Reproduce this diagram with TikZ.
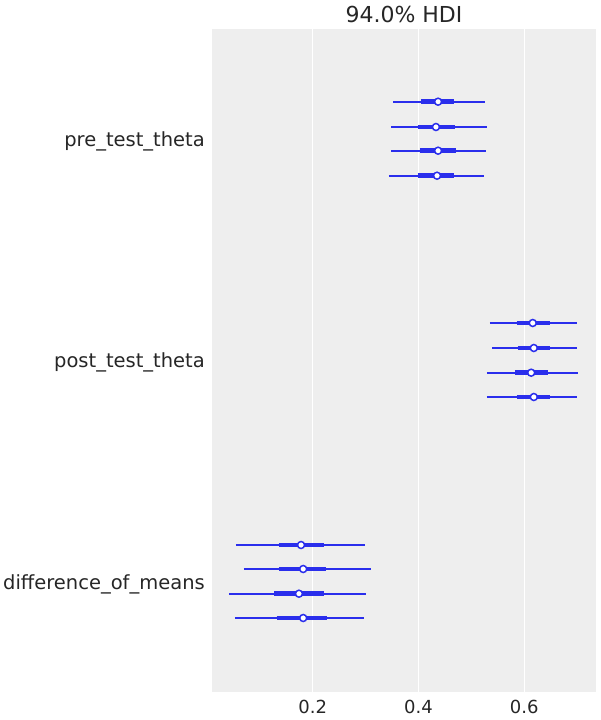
\documentclass[tikz,border=0pt]{standalone}
\usepackage{fontspec}
\setmainfont{DejaVu Sans}
\usetikzlibrary{positioning}
\definecolor{hdiblue}{HTML}{2A2EEC}
\definecolor{panelgrey}{HTML}{EEEEEE}
\definecolor{labelgrey}{HTML}{262626}

\begin{document}
\begin{tikzpicture}[x=1pt, y=-1pt,
				hdiline/.style={draw=hdiblue, line width=2pt},
				iqrline/.style={draw=hdiblue, line width=4.7pt},
				estimate/.style={circle, draw=hdiblue, fill=white, line width=1.5pt, inner sep=0pt, minimum size=7pt},
				varlabel/.style={anchor=base east, inner xsep=0pt, text=labelgrey, font=\fontsize{19.5}{22}\selectfont},
				ticklabel/.style={anchor=base, text=labelgrey, font=\fontsize{18}{21}\selectfont}]
				\useasboundingbox (0,0) rectangle (600,720);
				\fill[panelgrey] (212,29) rectangle (596,692);
				
				\node[anchor=base, text=labelgrey, font=\fontsize{22}{26}\selectfont](title) at (404,23) {94.0\% HDI};
				
				\node[varlabel](pretheta) at (205,146.5) {pre\_test\_theta};
				\node[varlabel](posttheta) at (205,367.7) {post\_test\_theta};
				\node[varlabel](diffmeans) at (205,589) {difference\_of\_means};
				
				\begin{scope}[xshift=206.9pt, x=529pt]
				\foreach \v/\n in {0.2/two, 0.4/four, 0.6/six} {
					\draw[white, line width=1.2pt] (\v,29) -- (\v,692);
					\node[ticklabel](tick\n) at (\v,713) {\v};
				}
				% one row per chain: y, hdi low, quartile low, mean, quartile high, hdi high
				\foreach \y/\lo/\qa/\m/\qb/\hi in {
					101.7/0.352/0.405/0.437/0.467/0.526, 127.0/0.348/0.399/0.433/0.469/0.530,
					150.7/0.348/0.403/0.437/0.471/0.528, 175.7/0.344/0.399/0.435/0.467/0.524,
					323.0/0.535/0.586/0.616/0.648/0.700, 348.0/0.539/0.588/0.618/0.648/0.700,
					372.7/0.529/0.582/0.613/0.645/0.702, 397.0/0.529/0.586/0.618/0.648/0.700,
					545.0/0.055/0.136/0.178/0.221/0.299, 569.0/0.070/0.136/0.182/0.225/0.310,
					593.7/0.042/0.127/0.174/0.221/0.301, 618.0/0.053/0.132/0.182/0.227/0.297} {
					\draw[hdiline] (\lo,\y) -- (\hi,\y);
					\draw[iqrline] (\qa,\y) -- (\qb,\y);
					\node[estimate] at (\m,\y) {};
				}
				\end{scope}
			\end{tikzpicture}
\end{document}
